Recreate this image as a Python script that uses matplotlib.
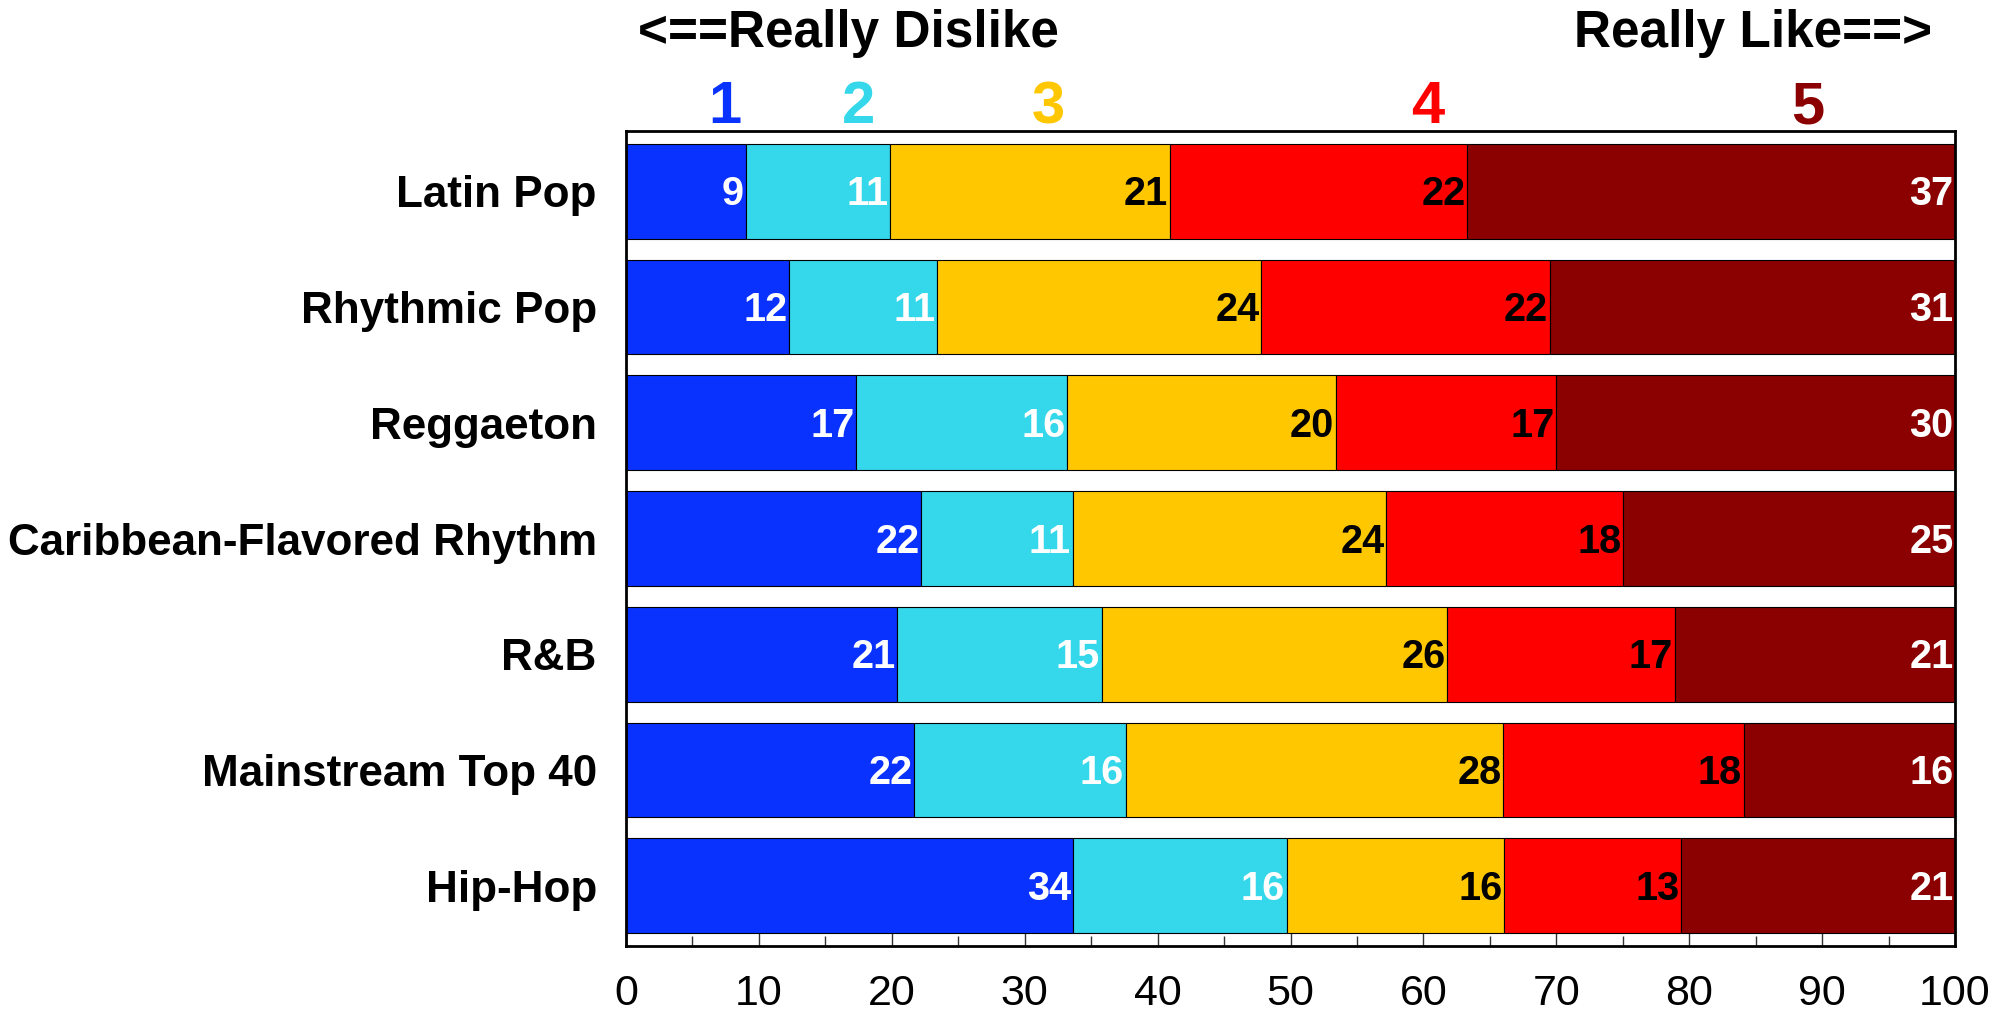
import matplotlib
matplotlib.use("Agg")
import matplotlib.pyplot as plt
from matplotlib.ticker import MultipleLocator
import numpy as np

plt.rcParams['font.family'] = ['Liberation Sans', 'DejaVu Sans']

categories = ["Latin Pop", "Rhythmic Pop", "Reggaeton", "Caribbean-Flavored Rhythm",
              "R&B", "Mainstream Top 40", "Hip-Hop"]
rating_labels = ["1", "2", "3", "4", "5"]
r1 = [9.0, 12.3, 17.3, 22.2, 20.4, 21.7, 33.6]
r2 = [10.9, 11.1, 15.9, 11.4, 15.4, 15.9, 16.1]
r3 = [21.0, 24.4, 20.2, 23.6, 26.0, 28.4, 16.4]
r4 = [22.4, 21.7, 16.6, 17.8, 17.1, 18.1, 13.3]
r5 = [36.7, 30.5, 30.0, 25.0, 21.1, 15.9, 20.6]
shown1 = [9, 12, 17, 22, 21, 22, 34]
shown2 = [11, 11, 16, 11, 15, 16, 16]
shown3 = [21, 24, 20, 24, 26, 28, 16]
shown4 = [22, 22, 17, 18, 17, 18, 13]
shown5 = [37, 31, 30, 25, 21, 16, 21]
header_x = [7.45, 17.5, 31.8, 60.3, 88.9]
xticks = [0, 10, 20, 30, 40, 50, 60, 70, 80, 90, 100]

series = [r1, r2, r3, r4, r5]
shown = [shown1, shown2, shown3, shown4, shown5]
colors = ["#0A32FF", "#35D7EA", "#FFC700", "#FF0000", "#8B0000"]
text_colors = ["white", "white", "black", "black", "white"]

fig = plt.figure(figsize=(20.15, 10.19), dpi=100)
ax = fig.add_axes([626 / 2015, 1 - 946 / 1019, (1955 - 626) / 2015, (946 - 131) / 1019])

y = np.arange(len(categories))
left = np.zeros(len(categories))
for vals, lab, col, tcol in zip(series, shown, colors, text_colors):
    vals = np.array(vals)
    ax.barh(y, vals, left=left, height=0.82, color=col, edgecolor="black", linewidth=0.8, zorder=2)
    right = left + vals
    for yi, xr, t in zip(y, right, lab):
        ax.text(xr - 0.12, yi + 0.122, str(t), ha="right", va="baseline",
                fontsize=28.5, fontweight="bold", color=tcol, zorder=4)
    left = right

ax.set_xlim(0, 100)
ax.set_ylim(len(categories) - 0.48, -0.52)
ax.set_yticks(y)
ax.set_yticklabels(categories, fontsize=31.7, fontweight="bold")
ax.tick_params(axis="y", length=0, pad=21)
ax.set_xticks(xticks)
ax.set_xticklabels([str(v) for v in xticks], fontsize=31)
ax.xaxis.set_minor_locator(MultipleLocator(5))
ax.tick_params(axis="x", which="major", direction="in", length=15, width=1.0, pad=20, color="#333333")
ax.tick_params(axis="x", which="minor", direction="in", length=7, width=1.0, color="#333333")
for s in ax.spines.values():
    s.set_linewidth(2)
    s.set_color("black")
    s.set_zorder(5)

tr = ax.get_xaxis_transform()
for hx, hl, col in zip(header_x, rating_labels, colors):
    ax.text(hx, 1.0098, hl, transform=tr, ha="center", va="baseline",
            fontsize=43, fontweight="bold", color=col, clip_on=False)

ax.text(0.9, 1.103, "<==Really Dislike", transform=tr, ha="left", va="baseline",
        fontsize=37, fontweight="bold", color="black")
ax.text(98.3, 1.103, "Really Like==>", transform=tr, ha="right", va="baseline",
        fontsize=37, fontweight="bold", color="black")

fig.savefig("out.png", dpi=100)
